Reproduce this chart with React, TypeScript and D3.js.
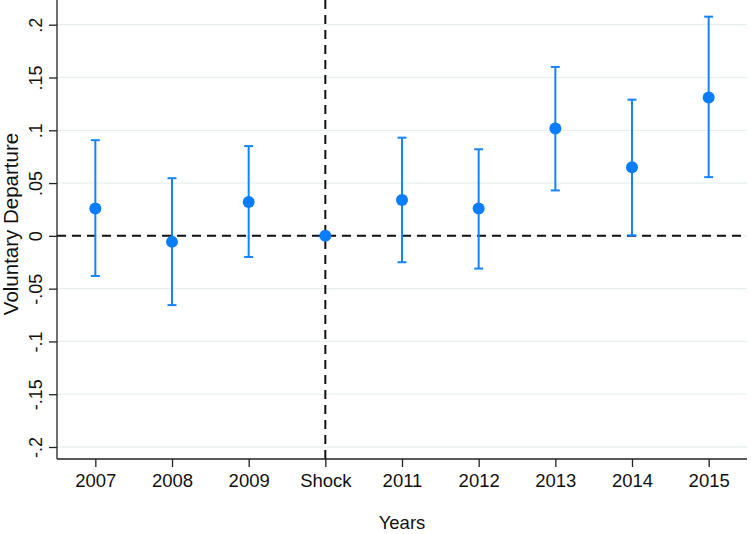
import React, { useEffect, useRef } from "react";
import * as d3 from "d3";

const categories = ["2007", "2008", "2009", "Shock", "2011", "2012", "2013", "2014", "2015"];
const estimates = [0.026, -0.0057, 0.032, 0, 0.034, 0.026, 0.1017, 0.065, 0.131];
const upperCI = [0.0906, 0.0546, 0.085, null, 0.093, 0.082, 0.16, 0.129, 0.2076];
const lowerCI = [-0.038, -0.0656, -0.02, null, -0.025, -0.031, 0.043, 0.0004, 0.0556];
const yTicks = [-0.2, -0.15, -0.1, -0.05, 0, 0.05, 0.1, 0.15, 0.2];

const W = 751;
const H = 534;
const FONT = "'Liberation Sans', Arial, Helvetica, sans-serif";
const BLUE = "#1584fb";

const fmt = (v: number) => {
  if (v === 0) return "0";
  const s = String(+v.toFixed(2));
  return s.replace("0.", ".");
};

const App = () => {
  const svgRef = useRef<SVGSVGElement>(null);

  useEffect(() => {
    const svg = d3.select(svgRef.current);
    svg.selectAll("*").remove();

    const left = 57;
    const right = 747;
    const top = 0;
    const bottom = 459;

    const x = d3.scalePoint().domain(categories).range([left, right]).padding(0.5);
    const y = d3.scaleLinear().domain([-0.2, 0.2]).range([447, 24.7]);

    // gridlines
    svg
      .append("g")
      .selectAll("line")
      .data(yTicks)
      .join("line")
      .attr("x1", left)
      .attr("x2", right)
      .attr("y1", (d) => y(d))
      .attr("y2", (d) => y(d))
      .attr("stroke", "#e9eff0")
      .attr("stroke-width", 1.3);

    // reference lines
    svg
      .append("line")
      .attr("x1", left)
      .attr("x2", right)
      .attr("y1", y(0))
      .attr("y2", y(0))
      .attr("stroke", "#111")
      .attr("stroke-width", 2)
      .attr("stroke-dasharray", "9,6");
    svg
      .append("line")
      .attr("x1", x("Shock"))
      .attr("x2", x("Shock"))
      .attr("y1", top)
      .attr("y2", bottom)
      .attr("stroke", "#111")
      .attr("stroke-width", 2)
      .attr("stroke-dasharray", "9,6");

    // axes
    const yAxis = svg
      .append("g")
      .attr("transform", `translate(${left},0)`)
      .call(d3.axisLeft(y).tickValues(yTicks).tickSize(8).tickFormat((d) => fmt(+d)));
    yAxis.select(".domain").attr("d", `M0,${top}V${bottom}`).attr("stroke", "#222").attr("stroke-width", 1.3);
    yAxis.selectAll(".tick line").attr("stroke", "#222").attr("stroke-width", 1.3);
    yAxis
      .selectAll(".tick text")
      .attr("font-family", FONT)
      .attr("font-size", 18)
      .attr("fill", "#111")
      .attr("text-anchor", "middle")
      .attr("dy", null)
      .attr("x", null)
      .attr("transform", "translate(-15,0) rotate(-90)")
      .attr("y", 0);

    const xAxis = svg
      .append("g")
      .attr("transform", `translate(0,${bottom})`)
      .call(d3.axisBottom(x).tickSize(8));
    xAxis.select(".domain").attr("d", `M${left},0H${right}`).attr("stroke", "#222").attr("stroke-width", 1.3);
    xAxis.selectAll(".tick line").attr("stroke", "#222").attr("stroke-width", 1.3);
    xAxis
      .selectAll(".tick text")
      .attr("font-family", FONT)
      .attr("font-size", 18.5)
      .attr("fill", "#111")
      .attr("dy", null)
      .attr("y", 28);

    const data = categories.map((c, i) => ({
      c,
      est: estimates[i],
      hi: upperCI[i],
      lo: lowerCI[i],
    }));
    const withCI = data.filter((d) => d.hi !== null && d.lo !== null);

    const g = svg.append("g");
    g.selectAll(".ci")
      .data(withCI)
      .join("line")
      .attr("x1", (d) => x(d.c)!)
      .attr("x2", (d) => x(d.c)!)
      .attr("y1", (d) => y(d.hi as number))
      .attr("y2", (d) => y(d.lo as number))
      .attr("stroke", BLUE)
      .attr("stroke-width", 2);
    for (const key of ["hi", "lo"] as const) {
      g.selectAll(".cap-" + key)
        .data(withCI)
        .join("line")
        .attr("x1", (d) => x(d.c)! - 4.5)
        .attr("x2", (d) => x(d.c)! + 4.5)
        .attr("y1", (d) => y(d[key] as number))
        .attr("y2", (d) => y(d[key] as number))
        .attr("stroke", BLUE)
        .attr("stroke-width", 2);
    }
    g.selectAll("circle")
      .data(data)
      .join("circle")
      .attr("cx", (d) => x(d.c)!)
      .attr("cy", (d) => y(d.est))
      .attr("r", 6)
      .attr("fill", "#0a7dfc");

    // titles
    svg
      .append("text")
      .attr("x", 402)
      .attr("y", 529)
      .attr("text-anchor", "middle")
      .attr("font-family", FONT)
      .attr("font-size", 18.5)
      .attr("fill", "#111")
      .text("Years");
    svg
      .append("text")
      .attr("transform", `translate(18,224) rotate(-90)`)
      .attr("text-anchor", "middle")
      .attr("font-family", FONT)
      .attr("font-size", 20.5)
      .attr("fill", "#111")
      .text("Voluntary Departure");
  }, []);

  return (
    <svg
      ref={svgRef}
      width={W}
      height={H}
      style={{ position: "absolute", left: 0, top: 0, background: "#fff" }}
    />
  );
};

export default App;
